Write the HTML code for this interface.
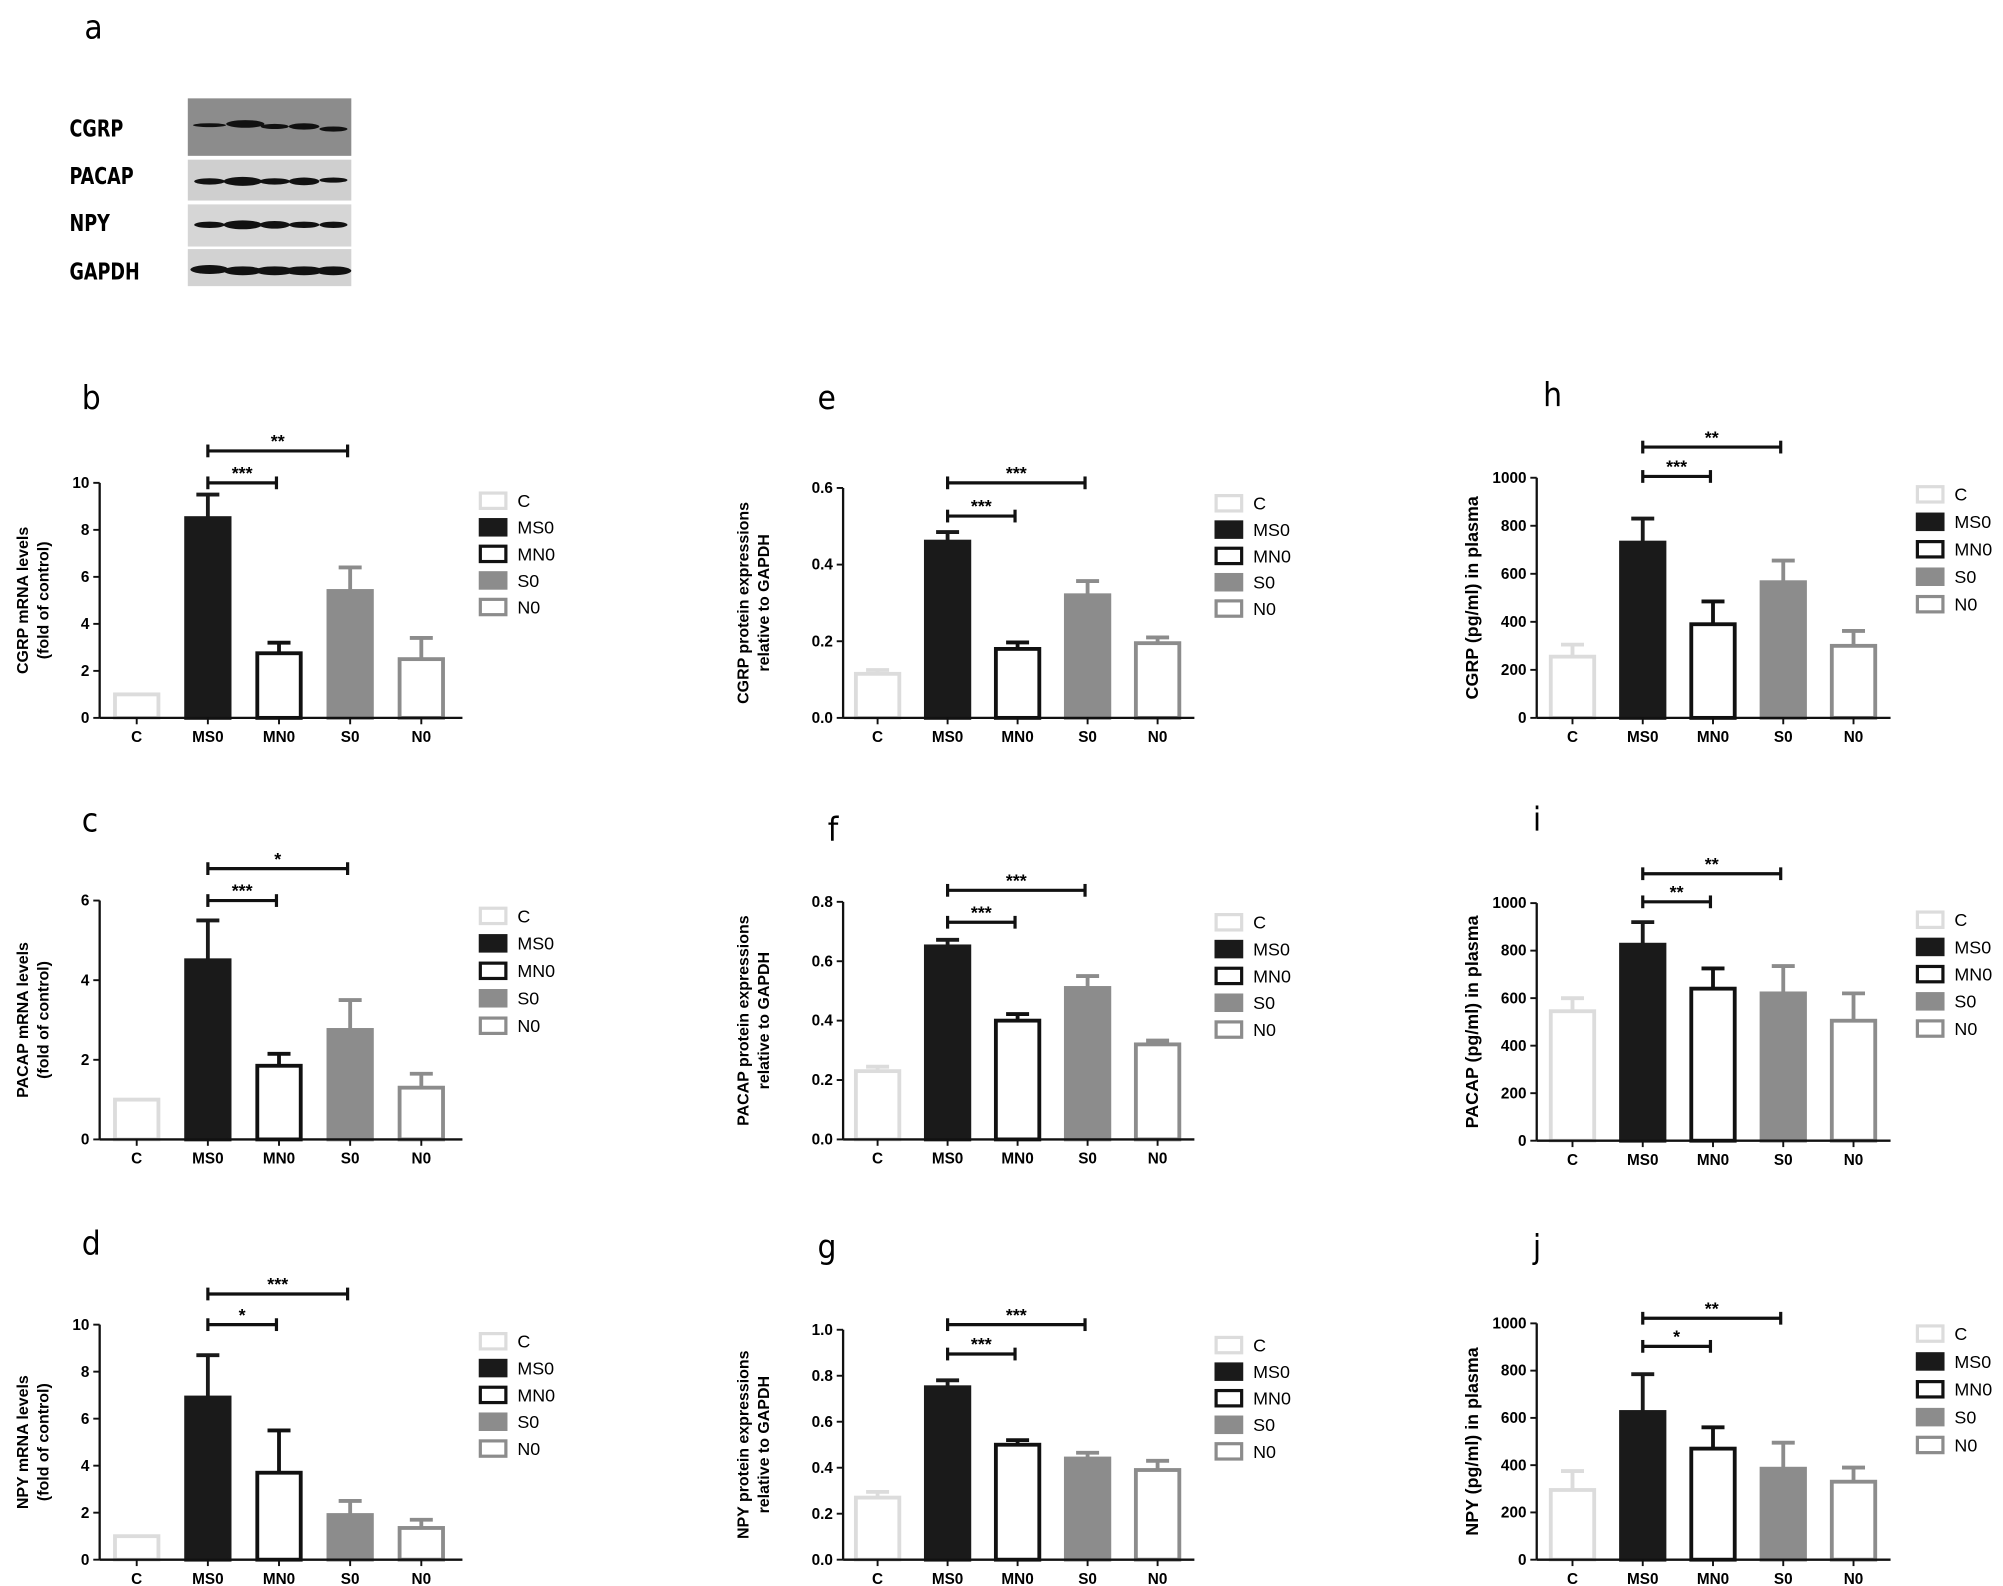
<!DOCTYPE html>
<html><head><meta charset="utf-8"><style>
html,body{margin:0;padding:0;background:#fff;}
svg{display:block;font-family:"Liberation Sans",sans-serif;}
</style></head><body>
<svg id="fig" width="2003" height="1586" viewBox="0 0 1568 1241.6" xmlns="http://www.w3.org/2000/svg">
<g>
<text x="66" y="30" font-size="26" font-family="DejaVu Sans Condensed, Liberation Sans, sans-serif">a</text>
<g font-size="18" font-weight="bold" font-family="DejaVu Sans Condensed, Liberation Sans, sans-serif" transform="scale(0.85,1)">
<text x="64" y="107">CGRP</text>
<text x="64" y="144">PACAP</text>
<text x="64" y="181">NPY</text>
<text x="64" y="219">GAPDH</text>
</g>
<rect x="147" y="77" width="128" height="45" fill="#8c8c8c"/>
<rect x="147" y="125" width="128" height="32" fill="#cfcfcf"/>
<rect x="147" y="160" width="128" height="33" fill="#d6d6d6"/>
<rect x="147" y="195" width="128" height="29" fill="#d2d2d2"/>
<g fill="#111">
<ellipse cx="164" cy="98" rx="13" ry="1.5"/><ellipse cx="192" cy="97" rx="15" ry="3"/><ellipse cx="215" cy="99" rx="11" ry="2"/><ellipse cx="238" cy="99" rx="12" ry="2.5"/><ellipse cx="261" cy="101" rx="11" ry="2"/>
<ellipse cx="164" cy="142" rx="12" ry="2.5"/><ellipse cx="190" cy="142" rx="15" ry="3.5"/><ellipse cx="215" cy="142" rx="12" ry="2.5"/><ellipse cx="238" cy="142" rx="12" ry="3"/><ellipse cx="261" cy="141" rx="11" ry="2"/>
<ellipse cx="164" cy="176" rx="12" ry="2.5"/><ellipse cx="190" cy="176" rx="15" ry="3.5"/><ellipse cx="215" cy="176" rx="12" ry="3"/><ellipse cx="238" cy="176" rx="12" ry="2.5"/><ellipse cx="261" cy="176" rx="11" ry="2.5"/>
<ellipse cx="164" cy="211" rx="15" ry="3.5"/><ellipse cx="190" cy="212" rx="15" ry="3.5"/><ellipse cx="215" cy="212" rx="15" ry="3.5"/><ellipse cx="238" cy="212" rx="15" ry="3.5"/><ellipse cx="261" cy="212" rx="14" ry="3.5"/>
</g>
</g>
</svg>
<script>
const categories = ["C","MS0","MN0","S0","N0"];
const bVals = [1, 8.5, 2.75, 5.4, 2.5];
const bErr  = [0, 9.5, 3.2, 6.4, 3.4];
const bTicks = [0,2,4,6,8,10];
const cVals = [1, 4.5, 1.85, 2.75, 1.3];
const cErr  = [0, 5.5, 2.15, 3.5, 1.65];
const cTicks = [0,2,4,6];
const dVals = [1, 6.9, 3.7, 1.9, 1.35];
const dErr  = [0, 8.7, 5.5, 2.5, 1.7];
const dTicks = [0,2,4,6,8,10];
const eVals = [0.115, 0.46, 0.18, 0.32, 0.195];
const eErr  = [0.125, 0.485, 0.197, 0.357, 0.21];
const eTicks = ["0.0","0.2","0.4","0.6"];
const fVals = [0.23, 0.65, 0.4, 0.51, 0.32];
const fErr  = [0.245, 0.672, 0.422, 0.55, 0.333];
const fTicks = ["0.0","0.2","0.4","0.6","0.8"];
const gVals = [0.27, 0.75, 0.5, 0.44, 0.39];
const gErr  = [0.295, 0.78, 0.52, 0.465, 0.43];
const gTicks = ["0.0","0.2","0.4","0.6","0.8","1.0"];
const hVals = [255, 730, 390, 565, 300];
const hErr  = [305, 830, 485, 655, 362];
const iVals = [545, 825, 640, 620, 505];
const iErr  = [600, 920, 725, 735, 620];
const jVals = [295, 625, 470, 385, 330];
const jErr  = [375, 785, 560, 495, 390];
const pgTicks = [0,200,400,600,800,1000];
const bSig = ["***","**"], cSig = ["***","*"], dSig = ["*","***"];
const eSig = ["***","***"], fSig = ["***","***"], gSig = ["***","***"];
const hSig = ["***","**"], iSig = ["**","**"], jSig = ["*","**"];

const NS = "http://www.w3.org/2000/svg";
const svg = document.getElementById('fig');
function mk(tag, attrs, parent){ const e=document.createElementNS(NS,tag); for(const k in attrs) e.setAttribute(k,attrs[k]); (parent||svg).appendChild(e); return e; }
const fills = ["#fff","#1a1a1a","#fff","#8c8c8c","#fff"];
const strokes = ["#dcdcdc","#1a1a1a","#111","#8c8c8c","#8c8c8c"];

function panel(o){
  const g = mk('g',{});
  
  
  const lt = mk('text',{x:o.lx,y:o.ly,'font-size':26,'font-family':'DejaVu Sans Condensed, Liberation Sans, sans-serif'},g);
  lt.textContent=o.letter;
  
  
  const x0=o.ax, y0=o.y0, ytop=o.ytop, max=o.max;
  const ys = v => y0 - (v/max)*(y0-ytop);
  const xs = i => o.bx0 + i*o.step;
  for(let i=0;i<categories.length;i++){
    const v=o.vals[i], e=o.err[i], cx=xs(i), w=34;
    const col=strokes[i];
    if(e>v){
      const ln=mk('line',{x1:cx,x2:cx,y1:ys(v),y2:ys(e),stroke:col,'stroke-width':3},g);
      
      
      mk('line',{x1:cx-9,x2:cx+9,y1:ys(e),y2:ys(e),stroke:col,'stroke-width':3},g);
    }
    const r=mk('rect',{x:cx-w/2,y:ys(v),width:w,height:y0-ys(v),fill:fills[i],stroke:col,'stroke-width':3},g);
    
    
  }
  const ya=mk('line',{x1:x0,x2:x0,y1:ytop,y2:y0,stroke:'#111','stroke-width':1.8},g);
  
  
  const xa=mk('line',{x1:x0,x2:o.axEnd,y1:y0,y2:y0,stroke:'#111','stroke-width':1.8},g);
  
  
  o.ticks.forEach(t=>{
    const y=ys(parseFloat(t));
    mk('line',{x1:x0-5,x2:x0,y1:y,y2:y,stroke:'#111','stroke-width':1.5},g);
    const tx=mk('text',{x:x0-8,y:y+4,'font-size':12,'font-weight':'bold','text-anchor':'end'},g);
    tx.textContent=t;
    
    
  });
  categories.forEach((c,i)=>{
    mk('line',{x1:xs(i),x2:xs(i),y1:y0,y2:y0+5,stroke:'#111','stroke-width':1.5},g);
    const tx=mk('text',{x:xs(i),y:y0+19,'font-size':12,'font-weight':'bold','text-anchor':'middle'},g);
    tx.textContent=c;
    
    
  });
  const yl=mk('text',{transform:`translate(${o.ylx},${(y0+ytop)/2}) rotate(-90)`,'font-size':o.ylfs||12.5,'font-weight':'bold','text-anchor':'middle'},g);
  
  
  o.ylabel.forEach((s,k)=>{ const ts=mk('tspan',{x:0,dy:k?16:0},yl); ts.textContent=s; });
  const sigEnds=[2,3];
  [o.sig1y,o.sig2y].forEach((sy,k)=>{
    const xa1=xs(1), xb=xs(sigEnds[k])-2;
    const l=mk('line',{x1:xa1,x2:xb,y1:sy,y2:sy,stroke:'#111','stroke-width':2.5},g);
    
    
    mk('line',{x1:xa1,x2:xa1,y1:sy-5,y2:sy+5,stroke:'#111','stroke-width':2.5},g);
    mk('line',{x1:xb,x2:xb,y1:sy-5,y2:sy+5,stroke:'#111','stroke-width':2.5},g);
    const st=mk('text',{x:(xa1+xb)/2,y:sy-3,'font-size':14,'font-weight':'bold','text-anchor':'middle'},g);
    st.textContent=o.sig[k];
    
    
  });
  categories.forEach((c,i)=>{
    const y=o.legY+i*o.legStep;
    const lr=mk('rect',{x:o.legX,y:y-6,width:20,height:12,fill:fills[i],stroke:strokes[i],'stroke-width':2.5},g);
    
    
    const lt2=mk('text',{x:o.legX+29,y:y+5,'font-size':14},g);
    lt2.textContent=c;
    
    
  });
}
const colA={ax:78,bx0:107,step:55.7,axEnd:362,legX:376,ylx:22};
const colB={ax:660,bx0:687,step:54.8,axEnd:935,legX:952,ylx:586};
const colC={ax:1203,bx0:1231,step:55,axEnd:1480,legX:1501,ylx:1157,ylfs:14};
panel(Object.assign({},colA,{letter:'b',lx:64,ly:320,y0:562,ytop:378,max:10,ticks:bTicks,vals:bVals,err:bErr,sig:bSig,sig1y:378,sig2y:353,legY:392,legStep:20.8,ylabel:['CGRP mRNA levels','(fold of control)']}));
panel(Object.assign({},colA,{letter:'c',lx:64,ly:651,y0:892,ytop:705,max:6,ticks:cTicks,vals:cVals,err:cErr,sig:cSig,sig1y:705,sig2y:680,legY:717,legStep:21.5,ylabel:['PACAP mRNA levels','(fold of control)']}));
panel(Object.assign({},colA,{letter:'d',lx:64,ly:982,y0:1221,ytop:1037,max:10,ticks:dTicks,vals:dVals,err:dErr,sig:dSig,sig1y:1037,sig2y:1013,legY:1050,legStep:21,ylabel:['NPY mRNA levels','(fold of control)']}));
panel(Object.assign({},colB,{letter:'e',lx:640,ly:320,y0:562,ytop:382,max:0.6,ticks:eTicks,vals:eVals,err:eErr,sig:eSig,sig1y:404,sig2y:378,legY:394,legStep:20.6,ylabel:['CGRP protein expressions','relative to GAPDH']}));
panel(Object.assign({},colB,{letter:'f',lx:648,ly:658,y0:892,ytop:706,max:0.8,ticks:fTicks,vals:fVals,err:fErr,sig:fSig,sig1y:722,sig2y:697,legY:722,legStep:21,ylabel:['PACAP protein expressions','relative to GAPDH']}));
panel(Object.assign({},colB,{letter:'g',lx:640,ly:985,y0:1221,ytop:1041,max:1.0,ticks:gTicks,vals:gVals,err:gErr,sig:gSig,sig1y:1060,sig2y:1037,legY:1053,legStep:20.8,ylabel:['NPY protein expressions','relative to GAPDH']}));
panel(Object.assign({},colC,{letter:'h',lx:1208,ly:318,y0:562,ytop:374,max:1000,ticks:pgTicks,vals:hVals,err:hErr,sig:hSig,sig1y:373,sig2y:350,legY:387,legStep:21.5,ylabel:['CGRP (pg/ml) in plasma']}));
panel(Object.assign({},colC,{letter:'i',lx:1200,ly:650,y0:893,ytop:707,max:1000,ticks:pgTicks,vals:iVals,err:iErr,sig:iSig,sig1y:706,sig2y:684,legY:720,legStep:21.3,ylabel:['PACAP (pg/ml) in plasma']}));
panel(Object.assign({},colC,{letter:'j',lx:1200,ly:985,y0:1221,ytop:1036,max:1000,ticks:pgTicks,vals:jVals,err:jErr,sig:jSig,sig1y:1054,sig2y:1032,legY:1044,legStep:21.8,ylabel:['NPY (pg/ml) in plasma']}));
</script>
</body></html>
